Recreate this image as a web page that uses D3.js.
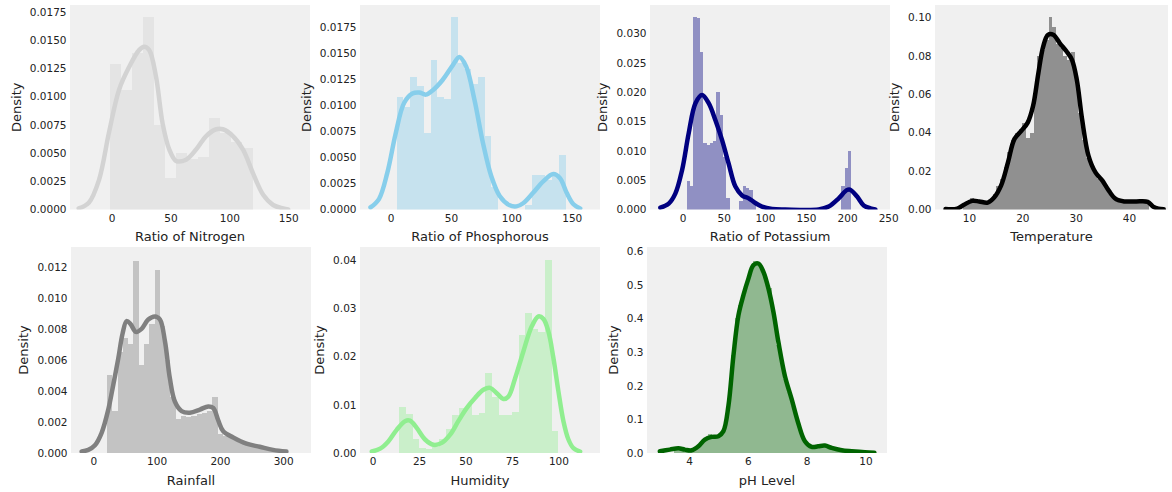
<!DOCTYPE html>
<html>
<head>
<meta charset="utf-8">
<script src="https://cdn.jsdelivr.net/npm/d3@7"></script>
<style>
  body { margin: 0; background: #fff; }
  svg { display: block; font-family: "DejaVu Sans", sans-serif; }
</style>
</head>
<body>
<div id="chart"></div>
<script>
// ---- histogram bins (density per bin), first edge + bin width ----
var nitrogenBinLo = -1, nitrogenBinW = 9.3;
var nitrogenBins = [0.0129, 0.0106, 0.0138, 0.0170, 0.0075, 0.0028, 0.0050, 0.0045, 0.0046, 0.0081, 0.0068, 0.0060, 0.0054];

var phosphorousBinLo = 5, phosphorousBinW = 5.6;
var phosphorousBins = [0.0108, 0.0098, 0.0127, 0.0118, 0.0073, 0.0143, 0.0108, 0.0106, 0.0184, 0.0140,
  0.0135, 0.0120, 0.0127, 0.0070, 0.0022, 0, 0, 0, 0, 0.0004, 0.0033, 0.0033, 0.0028, 0.0033, 0.0052];

var potassiumBinLo = 5, potassiumBinW = 4;
var potassiumBins = [0.0048, 0.0040, 0.0328, 0.0326, 0.0268, 0.0113, 0.0110, 0.0113, 0.0116, 0.0200,
  0.0161, 0.0090, 0.0020, 0, 0, 0, 0.0015, 0.0040, 0.0036, 0.0033,
  0.0010, 0, 0, 0, 0, 0, 0, 0, 0, 0,
  0, 0, 0, 0, 0, 0, 0, 0, 0, 0,
  0, 0, 0, 0, 0, 0, 0, 0.0040, 0.0071, 0.0099];

var temperatureBinLo = 8.8, temperatureBinW = 0.7;
var temperatureBins = [0.003, 0.004, 0.006, 0.005, 0.004, 0.003, 0.004, 0.005, 0.008, 0.012,
  0.016, 0.022, 0.030, 0.036, 0.040, 0.042, 0.045, 0.037, 0.040, 0.062,
  0.080, 0.083, 0.088, 0.100, 0.095, 0.086, 0.084, 0.080, 0.078, 0.082,
  0.066, 0.050, 0.036, 0.027, 0.022, 0.019, 0.016, 0.014, 0.011, 0.008,
  0.006, 0.004, 0.004, 0.005, 0.004, 0.004, 0.005, 0.004, 0.004, 0.003];

var rainfallBinLo = 22, rainfallBinW = 8.3;
var rainfallBins = [0.0050, 0.0027, 0.0065, 0.0074, 0.0070, 0.0124, 0.0057, 0.0070, 0.0083, 0.0118,
  0.0082, 0.0060, 0.0036, 0.0022, 0.0024, 0.0023, 0.0024, 0.0025, 0.0026, 0.0027,
  0.0036, 0.0012, 0.0011, 0.0010, 0.0009, 0.0008, 0.0007, 0.0006, 0.0005, 0.0004,
  0.0004, 0.0003, 0.0002, 0.0002];

var humidityBinLo = 14.3, humidityBinW = 3.57;
var humidityBins = [0.0095, 0.0080, 0.0030, 0.0010, 0.0008, 0.0012, 0.0030, 0.0050, 0.0078, 0.0093,
  0.0100, 0.0079, 0.0083, 0.0166, 0.0117, 0.0079, 0.0078, 0.0085, 0.0245, 0.0290,
  0.0258, 0.0250, 0.0400, 0.0045];

var phBinLo = 3.5, phBinW = 0.128;
var phBins = [0.010, 0.012, 0.006, 0.004, 0.006, 0.012, 0.020, 0.035, 0.045, 0.055,
  0.048, 0.045, 0.055, 0.080, 0.160, 0.290, 0.400, 0.440, 0.470, 0.510,
  0.540, 0.570, 0.560, 0.540, 0.500, 0.490, 0.410, 0.320, 0.270, 0.220,
  0.180, 0.140, 0.100, 0.070, 0.040, 0.025, 0.018, 0.015, 0.020, 0.025,
  0.020, 0.012, 0.008, 0.006, 0.004, 0.004, 0.003, 0.002, 0.002, 0.002];

// ---- kde curves [value, density] ----
var nitrogenKde = [[-28, 0.0001], [-19.4, 0.0006], [-10.8, 0.0026], [-2.3, 0.0068], [6.3, 0.0106], [14.8, 0.0126],
  [23.3, 0.0141], [27.6, 0.0144], [31.9, 0.0141], [37.6, 0.0118], [43.3, 0.0076], [49, 0.0053], [54.7, 0.0043],
  [63.2, 0.0044], [71.7, 0.0053], [80.3, 0.0065], [88.8, 0.0071], [94.5, 0.0071], [103, 0.0065], [111.6, 0.0053],
  [120.1, 0.0032], [128.7, 0.0013], [137.2, 0.0004], [145.7, 0.0001], [150, 0]];

var phosphorousKde = [[-16.7, 0.0002], [-9.7, 0.0010], [-2.8, 0.0035], [4.2, 0.0073], [11.1, 0.0102], [18, 0.0111],
  [23.6, 0.0112], [29.2, 0.0110], [34.7, 0.0114], [43, 0.0124], [51.4, 0.0138], [56.9, 0.0146], [62.5, 0.0137],
  [69.4, 0.0105], [76.4, 0.0064], [83.3, 0.0032], [90.3, 0.0013], [98.6, 0.0004], [104.2, 0.0003], [109.7, 0.0006],
  [118, 0.0016], [126.4, 0.0027], [134.7, 0.0034], [140.3, 0.0030], [145.8, 0.0016], [151.4, 0.0005], [157, 0.0001]];

var potassiumKde = [[-27.2, 0.0003], [-17, 0.0010], [-9, 0.0027], [-0.8, 0.0067], [7.3, 0.0130], [15.5, 0.0181],
  [23.5, 0.0195], [31.6, 0.0181], [39.8, 0.0152], [47.9, 0.0118], [55.9, 0.0078], [64.1, 0.0039], [72.2, 0.0024],
  [80.3, 0.0019], [88.4, 0.0011], [96.5, 0.0005], [108.7, 0.0001], [124.6, 0], [165.4, 0], [177.6, 0.0005],
  [189.8, 0.0019], [199.5, 0.0033], [203.5, 0.0034], [212.2, 0.0022], [220.2, 0.0007], [228.4, 0.0002], [234.4, 0]];

var temperatureKde = [[5.6, 0.0003], [7.8, 0.0005], [9.05, 0.0025], [10.6, 0.0045], [11.9, 0.0042], [13.5, 0.0036],
  [14.7, 0.0062], [16, 0.0124], [17.3, 0.0245], [18.5, 0.0366], [19.8, 0.0409], [21, 0.0452], [22, 0.0538],
  [23, 0.0710], [23.9, 0.0848], [24.8, 0.0909], [25.8, 0.0909], [27, 0.0866], [28.3, 0.0822], [29.3, 0.0779],
  [30.2, 0.0676], [31.2, 0.0469], [32.4, 0.0279], [33.7, 0.0193], [35, 0.0150], [36.2, 0.0098], [37.5, 0.0055],
  [39.1, 0.0042], [41.3, 0.0042], [43.5, 0.0040], [44.5, 0.0015], [45.5, 0.0004], [46.5, 0.0001]];

var rainfallKde = [[-18.4, 0.0001], [-7.9, 0.0002], [2.6, 0.0005], [13.2, 0.0013], [23.7, 0.0028], [31.6, 0.0044],
  [39.5, 0.0061], [46.3, 0.0077], [52.6, 0.0085], [58.9, 0.0083], [67.4, 0.0078], [76.3, 0.0080], [86.8, 0.0086],
  [97.4, 0.0088], [105.3, 0.0086], [113.2, 0.0072], [121, 0.0048], [129, 0.0033], [139.5, 0.0027], [152.6, 0.0026],
  [168.4, 0.0028], [181.6, 0.0030], [189.5, 0.0029], [197.4, 0.0021], [205.3, 0.0014], [221, 0.0010], [242, 0.0006],
  [263, 0.0004], [284, 0.0002], [305, 0.0001]];

var humidityKde = [[-0.5, 0.0003], [4, 0.0009], [8.4, 0.0024], [12.9, 0.0048], [17.4, 0.0066], [20.1, 0.0067],
  [23.7, 0.0052], [28.2, 0.0028], [32.7, 0.0017], [37.2, 0.0021], [41.7, 0.0038], [46.1, 0.0066], [50.6, 0.0093],
  [55.1, 0.0114], [59.6, 0.0131], [63.2, 0.0135], [66.8, 0.0124], [70.4, 0.0112], [73.1, 0.0117], [76.7, 0.0155],
  [81.1, 0.0210], [85.6, 0.0262], [89.2, 0.0283], [91.9, 0.0278], [94.6, 0.0252], [97.3, 0.0197], [100, 0.0128],
  [102.7, 0.0066], [105.4, 0.0028], [108.1, 0.0010], [111.7, 0.0003]];

var phKde = [[3.01, 0.005], [3.35, 0.010], [3.64, 0.014], [3.86, 0.010], [4.09, 0.008], [4.32, 0.020], [4.54, 0.040],
  [4.77, 0.048], [5.0, 0.050], [5.17, 0.065], [5.34, 0.140], [5.51, 0.289], [5.68, 0.409], [5.85, 0.469],
  [6.02, 0.518], [6.19, 0.558], [6.36, 0.563], [6.53, 0.538], [6.70, 0.489], [6.87, 0.419], [7.04, 0.329],
  [7.26, 0.229], [7.49, 0.160], [7.71, 0.090], [7.94, 0.035], [8.17, 0.018], [8.39, 0.020], [8.62, 0.022],
  [8.85, 0.015], [9.19, 0.008], [9.53, 0.005], [9.98, 0.002], [10.3, 0.001]];

// ---- tick labels ----
var nitrogenXTicks = [0, 50, 100, 150];
var phosphorousXTicks = [0, 50, 100, 150];
var potassiumXTicks = [0, 50, 100, 150, 200, 250];
var temperatureXTicks = [10, 20, 30, 40];
var rainfallXTicks = [0, 100, 200, 300];
var humidityXTicks = [0, 25, 50, 75, 100];
var phXTicks = [4, 6, 8, 10];

var smallYTicks = [0, 0.0025, 0.005, 0.0075, 0.01, 0.0125, 0.015, 0.0175];
var potassiumYTicks = [0, 0.005, 0.01, 0.015, 0.02, 0.025, 0.03];
var temperatureYTicks = [0, 0.02, 0.04, 0.06, 0.08, 0.1];
var rainfallYTicks = [0, 0.002, 0.004, 0.006, 0.008, 0.01, 0.012];
var humidityYTicks = [0, 0.01, 0.02, 0.03, 0.04];
var phYTicks = [0, 0.1, 0.2, 0.3, 0.4, 0.5, 0.6];

// ---- layout ----
var W = 1172, H = 492;
var row1 = { top: 5, bottom: 209.5 }, row2 = { top: 247, bottom: 453 };

var panels = [
  { label: 'Ratio of Nitrogen', color: '#d3d3d3', left: 70, pw: 240, row: row1, xDomain: [-35.4, 168.5], yMax: 0.01809,
    lo: nitrogenBinLo, w: nitrogenBinW, bins: nitrogenBins, kde: nitrogenKde, xTicks: nitrogenXTicks, yTicks: smallYTicks, fmt: '.4f' },
  { label: 'Ratio of Phosphorous', color: '#87ceeb', left: 360, pw: 240, row: row1, xDomain: [-25.4, 173.4], yMax: 0.01958,
    lo: phosphorousBinLo, w: phosphorousBinW, bins: phosphorousBins, kde: phosphorousKde, xTicks: phosphorousXTicks, yTicks: smallYTicks, fmt: '.4f' },
  { label: 'Ratio of Potassium', color: '#000080', left: 650, pw: 240, row: row1, xDomain: [-39.8, 252.2], yMax: 0.03482,
    lo: potassiumBinLo, w: potassiumBinW, bins: potassiumBins, kde: potassiumKde, xTicks: potassiumXTicks, yTicks: potassiumYTicks, fmt: '.3f' },
  { label: 'Temperature', color: '#000000', left: 935, pw: 233, row: row1, xDomain: [3.62, 47.3], yMax: 0.1064,
    lo: temperatureBinLo, w: temperatureBinW, bins: temperatureBins, kde: temperatureKde, xTicks: temperatureXTicks, yTicks: temperatureYTicks, fmt: '.2f' },
  { label: 'Rainfall', color: '#808080', left: 71, pw: 240, row: row2, xDomain: [-35.2, 343.9], yMax: 0.01327,
    lo: rainfallBinLo, w: rainfallBinW, bins: rainfallBins, kde: rainfallKde, xTicks: rainfallXTicks, yTicks: rainfallYTicks, fmt: '.3f' },
  { label: 'Humidity', color: '#90ee90', left: 360, pw: 240, row: row2, xDomain: [-6.84, 122.4], yMax: 0.0427,
    lo: humidityBinLo, w: humidityBinW, bins: humidityBins, kde: humidityKde, xTicks: humidityXTicks, yTicks: humidityYTicks, fmt: '.2f' },
  { label: 'pH Level', color: '#006400', left: 647, pw: 240, row: row2, xDomain: [2.573, 10.73], yMax: 0.612,
    lo: phBinLo, w: phBinW, bins: phBins, kde: phKde, xTicks: phXTicks, yTicks: phYTicks, fmt: '.1f' }
];

var svg = d3.select('#chart')
  .append('svg')
    .attr('width', W)
    .attr('height', H);

svg.append('rect').attr('width', W).attr('height', H).attr('fill', '#fff');

panels.forEach(function (p, i) {
  var ph = p.row.bottom - p.row.top;
  var pw = p.pw;
  var g = svg.append('g')
    .attr('transform', 'translate(' + p.left + ',' + p.row.top + ')');

  var x = d3.scaleLinear().domain(p.xDomain).range([0, pw]);
  var y = d3.scaleLinear().domain([0, p.yMax]).range([ph, 0]);

  g.append('clipPath').attr('id', 'clip' + i)
    .append('rect').attr('width', pw).attr('height', ph);

  g.append('rect')
    .attr('width', pw)
    .attr('height', ph)
    .attr('fill', '#f0f0f0');

  var bars = p.bins.map(function (h, k) {
    return { x0: p.lo + k * p.w, x1: p.lo + (k + 1) * p.w, h: h };
  });

  g.append('g').attr('clip-path', 'url(#clip' + i + ')')
    .attr('shape-rendering', 'crispEdges')
    .selectAll('rect')
    .data(bars)
    .enter()
    .append('rect')
      .attr('x', d => x(d.x0))
      .attr('width', d => x(d.x1) - x(d.x0))
      .attr('y', d => y(d.h))
      .attr('height', d => y(0) - y(d.h))
      .attr('fill', p.color)
      .attr('fill-opacity', 0.4);

  var line = d3.line()
    .x(d => x(d[0]))
    .y(d => y(d[1]))
    .curve(d3.curveCatmullRom.alpha(0.5));

  g.append('path')
    .datum(p.kde)
    .attr('clip-path', 'url(#clip' + i + ')')
    .attr('d', line)
    .attr('fill', 'none')
    .attr('stroke', p.color)
    .attr('stroke-width', 4.5)
    .attr('stroke-linejoin', 'round')
    .attr('stroke-linecap', 'round');

  // axes, no spines and no tick marks
  var yAxis = g.append('g')
    .call(d3.axisLeft(y).tickValues(p.yTicks).tickFormat(d3.format(p.fmt)).tickSize(0).tickPadding(3.5));
  var xAxis = g.append('g')
    .attr('transform', 'translate(0,' + ph + ')')
    .call(d3.axisBottom(x).tickValues(p.xTicks).tickFormat(d3.format('d')).tickSize(0).tickPadding(5));

  [yAxis, xAxis].forEach(function (a) {
    a.select('.domain').remove();
    a.attr('font-family', null).attr('font-size', null);
    a.selectAll('text').attr('font-size', '10.5px').attr('fill', '#222');
  });

  g.append('text')
    .attr('x', pw / 2)
    .attr('y', ph + 27)
    .attr('dy', '0.35em')
    .attr('text-anchor', 'middle')
    .attr('font-size', '13px')
    .attr('fill', '#222')
    .text(p.label);

  var bb = yAxis.node().getBBox();
  g.append('text')
    .attr('transform', 'translate(' + (bb.x - 9) + ',' + (ph / 2) + ') rotate(-90)')
    .attr('text-anchor', 'middle')
    .attr('font-size', '13px')
    .attr('fill', '#222')
    .text('Density');
});
</script>
</body>
</html>
